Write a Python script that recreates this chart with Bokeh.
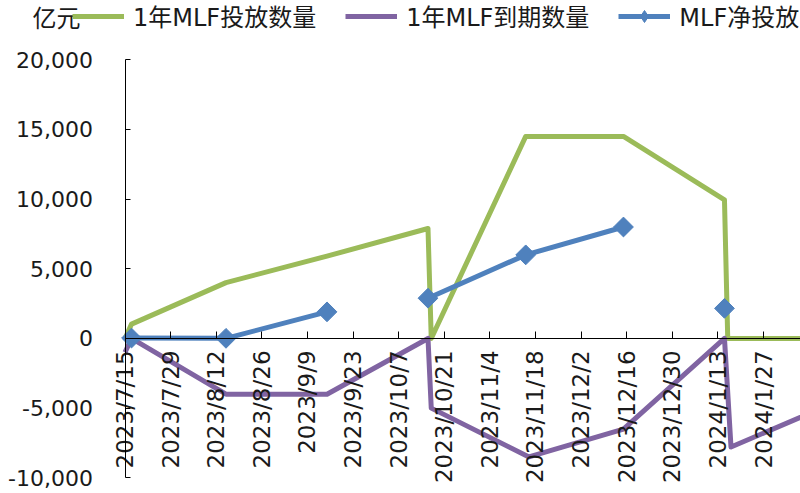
import math
import pandas as pd
from bokeh.plotting import figure
from bokeh.models import (Range1d, FixedTicker, NumeralTickFormatter, CustomJSTickFormatter,
                          Legend, LegendItem, Label)
from bokeh.embed import file_html
from bokeh.resources import INLINE

# ---------------- data ----------------
green_name = "1年MLF投放数量"
green_dates = ["2023-07-15", "2023-07-17", "2023-08-15", "2023-09-15", "2023-10-16", "2023-10-17",
               "2023-11-15", "2023-12-15", "2024-01-15", "2024-01-16", "2024-02-14"]
green_values = [0, 1030, 4010, 5910, 7890, 0, 14500, 14500, 9950, 0, 0]

purple_name = "1年MLF到期数量"
purple_dates = ["2023-07-15", "2023-07-17", "2023-08-15", "2023-09-15", "2023-10-16", "2023-10-17",
                "2023-11-16", "2023-12-15", "2024-01-15", "2024-01-17", "2024-02-14"]
purple_values = [-1000, 0, -4000, -4000, 0, -5000, -8500, -6500, 0, -7790, -4990]

blue_name = "MLF净投放"
blue_dates = ["2023-07-17", "2023-08-15", "2023-09-15", "2023-10-16", "2023-11-15", "2023-12-15",
              "2024-01-15"]
blue_values = [30, 10, 1910, 2890, 6000, 8000, 2160]
blue_runs = [3, 3, 1]          # consecutive points that are joined by a line

x_tick_labels = ["2023/7/15", "2023/7/29", "2023/8/12", "2023/8/26", "2023/9/9", "2023/9/23",
                 "2023/10/7", "2023/10/21", "2023/11/4", "2023/11/18", "2023/12/2", "2023/12/16",
                 "2023/12/30", "2024/1/13", "2024/1/27", "2024/2/10"]
y_ticks = [-10000, -5000, 0, 5000, 10000, 15000, 20000]
unit_label = "亿元"

# ---------------- layout / styles ----------------
W, H = 800, 493
AX_LEFT_PX, AX_TOP_PX, AX_BOT_PX = 124.5, 59.3, 477.3   # where the axes sit on the canvas
PX_PER_DAY = 3.258
GREEN = "#9BBB59"
PURPLE = "#8064A2"
BLUE = "#4F81BD"
TXT = "#1a1a1a"
FONT = "DejaVu Sans, Noto Sans CJK SC"

def to_dt(lst):
    return [pd.Timestamp(d) for d in lst]

tick_ts = [pd.to_datetime(s, format="%Y/%m/%d") for s in x_tick_labels]
tick_ms = [t.value / 1e6 for t in tick_ts]
day_ms = 86400000.0
x0_ms = tick_ms[0]
x_lo = x0_ms - AX_LEFT_PX / PX_PER_DAY * day_ms
x_hi = x0_ms + (W - AX_LEFT_PX) / PX_PER_DAY * day_ms
units_per_px = (y_ticks[-1] - y_ticks[0]) / (AX_BOT_PX - AX_TOP_PX)
y_hi = y_ticks[-1] + AX_TOP_PX * units_per_px
y_lo = y_ticks[0] - (H - AX_BOT_PX) * units_per_px

p = figure(width=W, height=H, output_backend="svg", toolbar_location=None,
           x_axis_type="datetime",
           x_range=Range1d(x_lo, x_hi), y_range=Range1d(y_lo, y_hi),
           min_border_left=0, min_border_right=0, min_border_top=0, min_border_bottom=0)
p.xgrid.visible = False
p.ygrid.visible = False
p.outline_line_color = None
p.background_fill_color = "white"
p.border_fill_color = "white"

g = p.line(to_dt(green_dates), green_values, line_color=GREEN, line_width=5, line_join="round")
pu = p.line(to_dt(purple_dates), purple_values, line_color=PURPLE, line_width=5, line_join="round")

bx, by = [], []
i = 0
bd = to_dt(blue_dates)
for n in blue_runs:
    bx.append(bd[i:i + n])
    by.append(blue_values[i:i + n])
    i += n
bl = p.multi_line(bx, by, line_color=BLUE, line_width=5, line_join="round")
sc = p.scatter(bd, blue_values, marker="square", angle=math.pi / 4, size=14,
               fill_color=BLUE, line_color=BLUE)
# legend swatch: legend markers ignore angle, so a hidden diamond copy supplies the key glyph
sc_leg = p.scatter(bd, blue_values, marker="diamond", size=14,
                   fill_color=BLUE, line_color=BLUE, visible=False)

# x axis sitting on y = 0
xa = p.xaxis[0]
xa.fixed_location = 0
xa.bounds = (x0_ms, x_hi)
xa.ticker = FixedTicker(ticks=tick_ms)
xa.formatter = CustomJSTickFormatter(args=dict(tvals=tick_ms, tlabels=x_tick_labels), code="""
    for (let k = 0; k < tvals.length; k++) { if (Math.abs(tvals[k] - tick) < 1) return tlabels[k]; }
    return "";
""")
xa.major_label_orientation = math.pi / 2
xa.major_label_text_font = FONT
xa.major_label_text_font_size = "23px"
xa.major_label_text_color = TXT
xa.major_label_standoff = 12
xa.major_tick_in = 7
xa.major_tick_out = 0
xa.minor_tick_line_color = None
xa.axis_line_color = "#000000"
xa.major_tick_line_color = "#000000"

# y axis sitting on the first date
ya = p.yaxis[0]
ya.fixed_location = x0_ms
ya.bounds = (y_ticks[0], y_ticks[-1])
ya.ticker = FixedTicker(ticks=y_ticks)
ya.formatter = NumeralTickFormatter(format="0,0")
ya.major_label_text_font = FONT
ya.major_label_text_font_size = "22px"
ya.major_label_text_color = TXT
ya.major_label_standoff = 32
ya.major_tick_in = 5
ya.major_tick_out = 0
ya.minor_tick_line_color = None
ya.axis_line_color = "#000000"
ya.major_tick_line_color = "#000000"

p.add_layout(Label(x=32, y=H - 18, x_units="screen", y_units="screen", text=unit_label,
                   text_font=FONT, text_font_size="24px", text_baseline="middle",
                   text_color=TXT))

legend = Legend(items=[LegendItem(label=green_name, renderers=[g]),
                       LegendItem(label=purple_name, renderers=[pu]),
                       LegendItem(label=blue_name, renderers=[bl, sc_leg])],
                orientation="horizontal", location=(72, H - 33),
                glyph_width=52, glyph_height=30, label_height=30, label_standoff=9,
                spacing=29, padding=0, margin=0, border_line_color=None,
                background_fill_alpha=0, inactive_fill_alpha=0,
                label_text_font=FONT, label_text_font_size="24px",
                label_text_color=TXT, label_text_baseline="middle")
p.add_layout(legend)

open("out.html", "w").write(file_html(p, INLINE))
